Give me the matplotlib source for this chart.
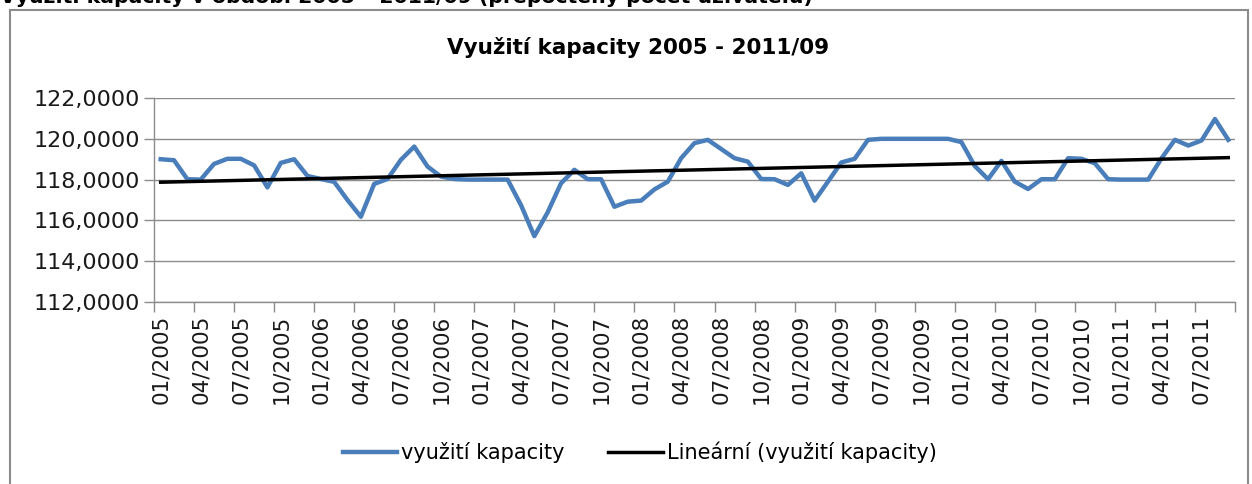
import numpy as np
import matplotlib
matplotlib.use("Agg")
import matplotlib.pyplot as plt
from matplotlib.patches import Rectangle
from matplotlib.ticker import FixedLocator, FuncFormatter

plt.rcParams['font.family'] = ['DejaVu Sans']

# monthly capacity usage 01/2005 .. 09/2011
vyuziti = [
    119.00, 118.95, 118.02, 118.00, 118.77, 119.02, 119.02, 118.70, 117.62, 118.82,
    119.00, 118.18, 118.03, 117.89, 117.00, 116.18, 117.79, 118.03, 118.97, 119.62,
    118.64, 118.15, 118.03, 118.00, 118.00, 118.00, 118.00, 116.75, 115.23, 116.40,
    117.82, 118.48, 118.02, 118.02, 116.67, 116.92, 116.97, 117.52, 117.90, 119.05,
    119.79, 119.95, 119.50, 119.05, 118.88, 118.03, 118.02, 117.74, 118.31, 116.97,
    117.90, 118.84, 119.02, 119.95, 120.00, 120.00, 120.00, 120.00, 120.00, 120.00,
    119.84, 118.67, 118.02, 118.92, 117.90, 117.54, 118.02, 118.02, 119.05, 119.02,
    118.80, 118.02, 118.00, 118.00, 118.00, 119.05, 119.95, 119.67, 119.92, 120.97,
    119.95,
]
tick_labels = [f"{m:02d}/{y}" for y in range(2005, 2012) for m in (1, 4, 7, 10)][:27]
y_ticks = [112, 114, 116, 118, 120, 122]

title = "Využití kapacity 2005 - 2011/09"
top_caption = "Využití kapacity v období 2005 – 2011/09 (přepočtený počet uživatelů)"
series_name = "využití kapacity"
trend_name = "Lineární (využití kapacity)"

n = len(vyuziti)
x = np.arange(n) + 0.5
coef = np.polyfit(np.arange(n), vyuziti, 1)
trend = np.polyval(coef, np.arange(n))

fig = plt.figure(figsize=(12.52, 4.84), dpi=100)
ax = fig.add_axes([0.123, 0.376, 0.8634, 0.4215])

ax.plot(x, vyuziti, color='#4A7EBB', lw=3.2, solid_joinstyle='round',
        label=series_name, zorder=3)
ax.plot(x, trend, color='black', lw=2.5, label=trend_name, zorder=4)

ax.set_xlim(0, n)
ax.set_ylim(112, 122)
ax.yaxis.set_major_locator(FixedLocator(y_ticks))
ax.yaxis.set_major_formatter(FuncFormatter(lambda v, p: f"{v:.4f}".replace('.', ',')))
ax.grid(axis='y', color='#8c8c8c', lw=1)
ax.set_axisbelow(True)

ax.xaxis.set_major_locator(FixedLocator(np.arange(0, n + 1, 3)))
ax.xaxis.set_major_formatter(FuncFormatter(lambda v, p: ""))
ax.xaxis.set_minor_locator(FixedLocator(np.arange(0, n, 3) + 0.5))
ax.set_xticklabels(tick_labels, minor=True, rotation=90)
ax.tick_params(axis='x', which='major', length=7, color='#8c8c8c', width=1)
ax.tick_params(axis='x', which='minor', length=0, pad=9, labelsize=15.5,
               labelcolor='#1a1a1a')
ax.tick_params(axis='y', length=7, color='#8c8c8c', width=1, labelsize=16,
               pad=3, labelcolor='#1a1a1a')

for s in ('top', 'right'):
    ax.spines[s].set_visible(False)
for s in ('left', 'bottom'):
    ax.spines[s].set_color('#8c8c8c')
    ax.spines[s].set_linewidth(1)

fig.text(638 / 1252, 1 - 47 / 484, title, fontsize=15.5, fontweight='bold',
         ha='center', va='center')

fig.legend(loc='center', bbox_to_anchor=(0.511, 0.066), ncol=2, frameon=False,
           fontsize=15, handlelength=2.6, columnspacing=2.1, handletextpad=0.2)

fig.patches.append(Rectangle((10 / 1252, -0.1), 1238 / 1252, 1.1 - 10 / 484,
                             transform=fig.transFigure, fill=False,
                             edgecolor='#8c8c8c', lw=1.5))
fig.text(0.0, 1.008, top_caption, fontsize=14.7, fontweight='bold',
         ha='left', va='center')

fig.savefig("out.png", dpi=100)
